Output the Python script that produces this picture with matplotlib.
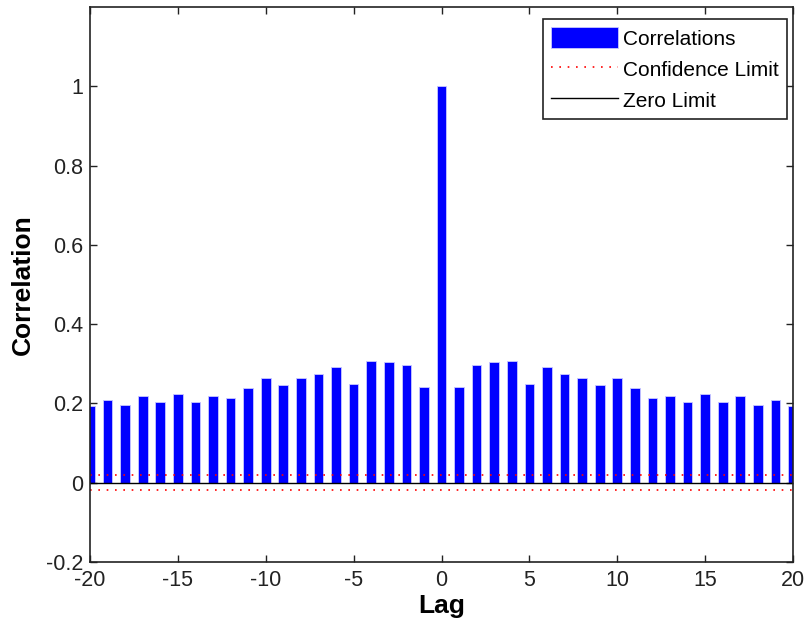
import numpy as np
import matplotlib
matplotlib.use('Agg')
from matplotlib import pyplot as plt

lags = np.arange(-20, 21)
# one side of the (symmetric) correlation, lag 1..20
half = [0.242, 0.296, 0.304, 0.308, 0.250, 0.292, 0.275, 0.263, 0.247, 0.263,
        0.239, 0.214, 0.218, 0.203, 0.223, 0.203, 0.218, 0.197, 0.209, 0.194]
corr = half[::-1] + [1.0] + half
conf_upper = 0.020
conf_lower = -0.018

plt.rcParams['font.family'] = ['Liberation Sans', 'DejaVu Sans']
plt.rcParams['axes.unicode_minus'] = False

fig = plt.figure(figsize=(8.07, 6.23), dpi=100)
ax = fig.add_axes([90/807, 1 - 562/623, 703/807, 555/623])

b = ax.bar(lags, corr, width=0.55, color='#0000ff', edgecolor='#c8c8ff',
           linewidth=0.6, label='Correlations')
c, = ax.plot([-20, 20], [conf_upper, conf_upper], color='#ff0000', ls=(0, (1, 4)),
             lw=1.2, label='Confidence Limit')
ax.plot([-20, 20], [conf_lower, conf_lower], color='#ff0000', ls=(0, (1, 4)), lw=1.2)
z, = ax.plot([-20, 20], [0, 0], color='black', lw=1, label='Zero Limit')

ax.set_xlim(-20, 20)
ax.set_ylim(-0.2, 1.2)
ax.set_xticks(np.arange(-20, 21, 5))
ax.set_yticks([-0.2, 0, 0.2, 0.4, 0.6, 0.8, 1.0])
ax.set_yticklabels(['-0.2', '0', '0.2', '0.4', '0.6', '0.8', '1'])
ax.tick_params(direction='in', top=True, right=True, labelsize=15.5, length=5,
               width=1, colors='#222222', pad=5)
ax.tick_params(axis='x', pad=6)
for s in ax.spines.values():
    s.set_linewidth(1.2)
    s.set_color('#222222')
ax.set_xlabel('Lag', fontsize=19, fontweight='bold', labelpad=2)
ax.set_ylabel('Correlation', fontsize=19, fontweight='bold', labelpad=8)

leg = ax.legend([b, c, z], ['Correlations', 'Confidence Limit', 'Zero Limit'],
                loc='upper right', bbox_to_anchor=(787/807, 1 - 19/623),
                bbox_transform=fig.transFigure, borderaxespad=0,
                fontsize=15, fancybox=False, framealpha=1, edgecolor='#222222',
                handlelength=3.2, handleheight=1.15, handletextpad=0.25,
                labelspacing=0.47, borderpad=0.4)
leg.get_frame().set_linewidth(1.2)

fig.savefig('out.png', dpi=100)
